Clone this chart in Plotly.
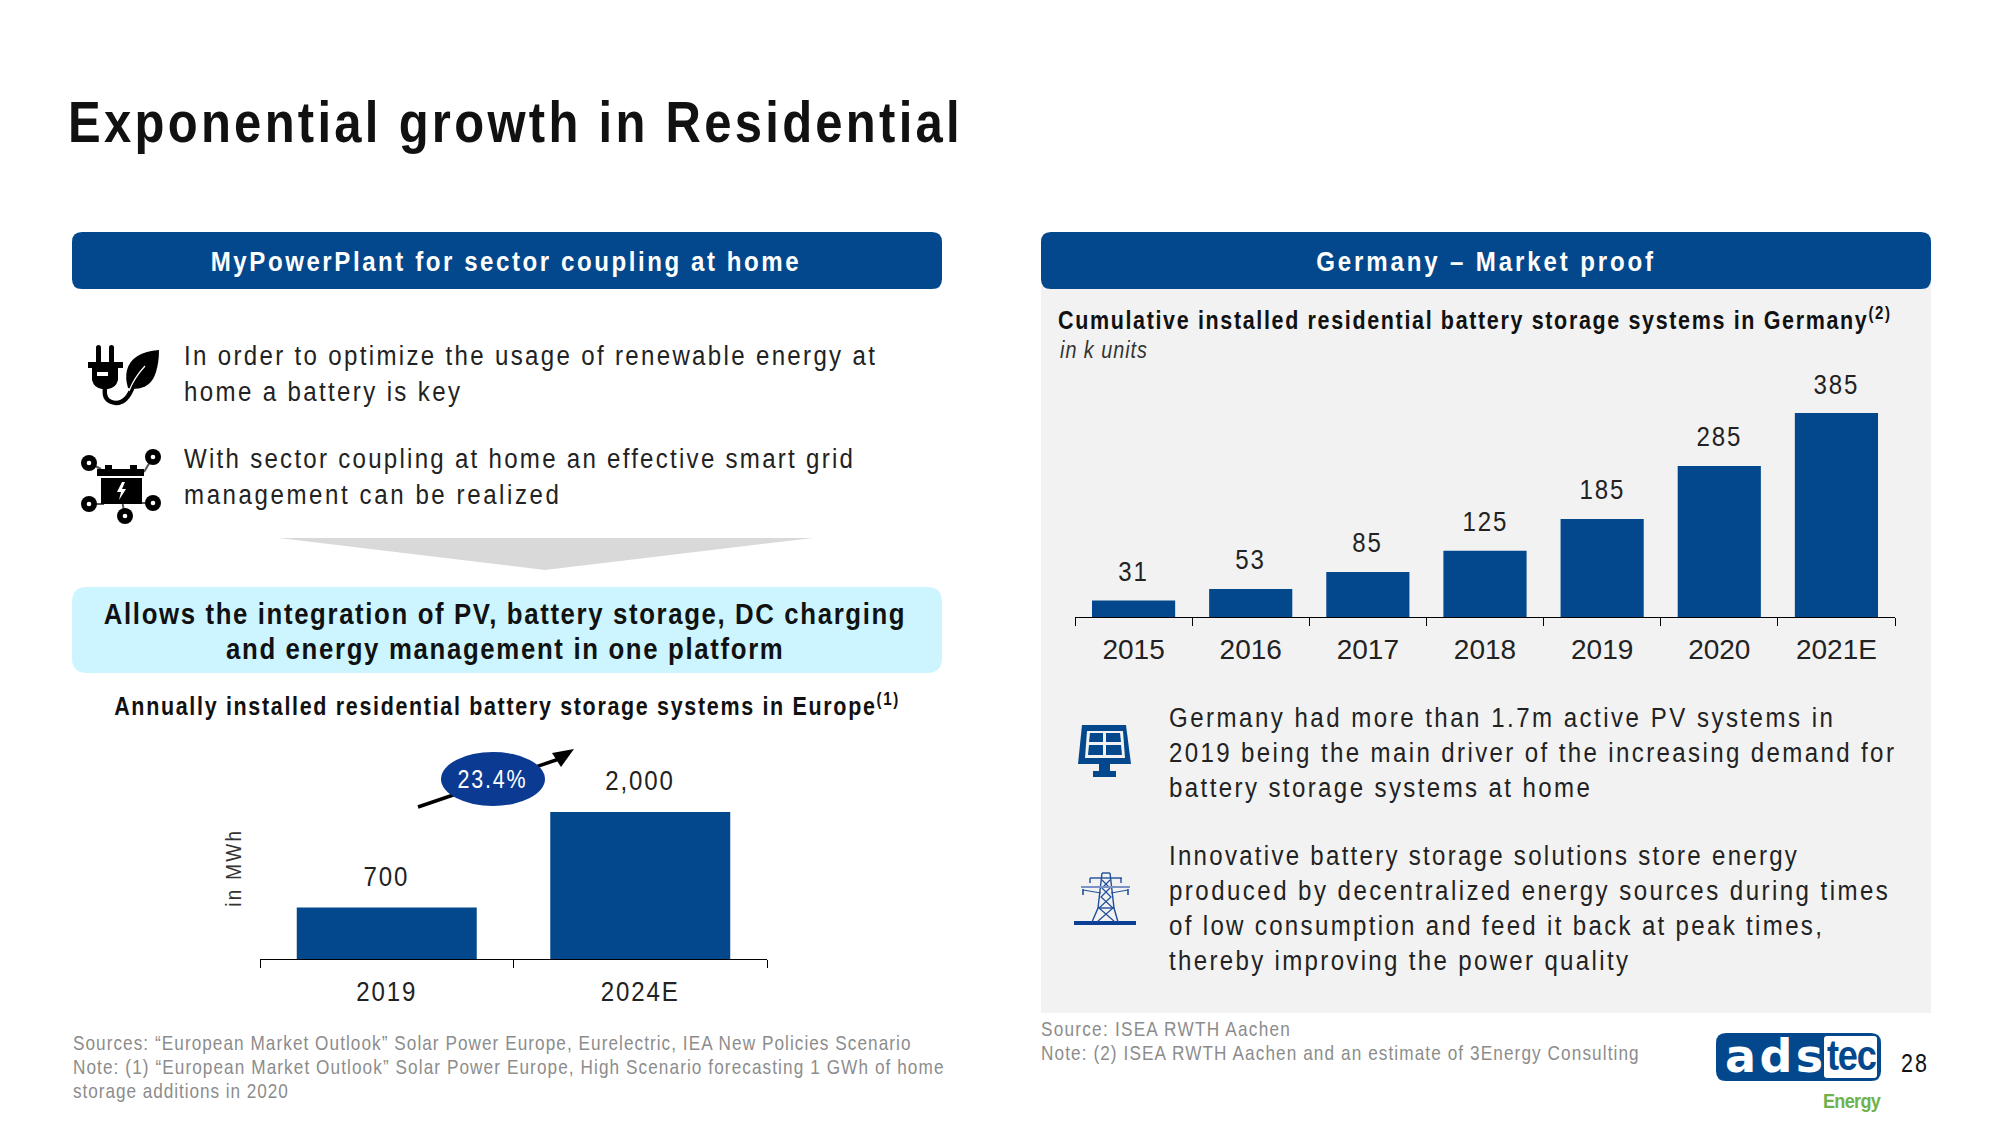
import json
import plotly.graph_objects as go

W, H = 2000, 1125
BLUE = "#03488C"
NAVY = "#0B3A93"
GREY_TXT = "#8C8C8C"
DARK = "#1A1A1A"
FONT = "Liberation Sans"

# ---- data -----------------------------------------------------------------
europe_years = ["2019", "2024E"]
europe_mwh = [700, 2000]
europe_labels = ["700", "2,000"]

germany_years = ["2015", "2016", "2017", "2018", "2019", "2020", "2021E"]
germany_units = [31, 53, 85, 125, 185, 285, 385]
germany_labels = ["31", "53", "85", "125", "185", "285", "385"]

# text, x, y, xanchor, size, colour, bold, target width
headings = [
    ("Exponential growth in Residential", 66, 122, "left", 57, "#111111", True, 892),
    ("MyPowerPlant for sector coupling at home", 506, 261, "center", 28, "#FFFFFF", True, 588),
    ("Germany – Market proof", 1486, 261, "center", 28, "#FFFFFF", True, 337),
    ("Allows the integration of PV, battery storage, DC charging", 505, 613, "center", 30, "#111111", True, 801),
    ("and energy management in one platform", 505, 648, "center", 30, "#111111", True, 557),
    ("Annually installed residential battery storage systems in Europe<sup>(1)</sup>", 507, 705, "center", 25, "#111111", True, 788),
    ("Cumulative installed residential battery storage systems in Germany<sup>(2)</sup>", 1056, 319, "left", 25, "#111111", True, 836),
]
body_lines = [
    ("In order to optimize the usage of renewable energy at", 182, 356, 691),
    ("home a battery is key", 182, 391, 276),
    ("With sector coupling at home an effective smart grid", 182, 459, 669),
    ("management can be realized", 182, 494, 375),
    ("Germany had more than 1.7m active PV systems in", 1166.5, 717, 664),
    ("2019 being the main driver of the increasing demand for", 1166.5, 752, 725),
    ("battery storage systems at home", 1166.5, 787, 421),
    ("Innovative battery storage solutions store energy", 1166.5, 855, 628),
    ("produced by decentralized energy sources during times", 1166.5, 890, 719),
    ("of low consumption and feed it back at peak times,", 1166.5, 925, 653),
    ("thereby improving the power quality", 1166.5, 960, 459),
]
source_lines = [
    ("Sources: “European Market Outlook” Solar Power Europe, Eurelectric, IEA New Policies Scenario", 71, 1043, 838),
    ("Note: (1) “European Market Outlook” Solar Power Europe, High Scenario forecasting 1 GWh of home", 71, 1067, 871),
    ("storage additions in 2020", 71, 1091, 215),
    ("Source: ISEA RWTH Aachen", 1039, 1029, 249),
    ("Note: (2) ISEA RWTH Aachen and an estimate of 3Energy Consulting", 1039, 1053, 598),
]

# ---- pixel helpers --------------------------------------------------------
def px(x): return x / W
def py(y): return 1 - y / H

def path(cmds):
    out = []
    for c in cmds:
        if isinstance(c, str):
            out.append(c)
        else:
            out.append(f"{px(c[0]):.5f},{py(c[1]):.5f}")
    return " ".join(out)

shapes = []
def add_path(cmds, fill=None, line=None, lw=0):
    shapes.append(dict(type="path", xref="paper", yref="paper", path=path(cmds), layer="below",
                       fillcolor=fill if fill else "rgba(0,0,0,0)",
                       line=dict(color=line if line else "rgba(0,0,0,0)", width=lw)))

def rrect(x0, y0, x1, y1, r, fill):
    add_path(["M", (x0 + r, y0), "L", (x1 - r, y0), "Q", (x1, y0), (x1, y0 + r), "L", (x1, y1 - r), "Q", (x1, y1), (x1 - r, y1),
              "L", (x0 + r, y1), "Q", (x0, y1), (x0, y1 - r), "L", (x0, y0 + r), "Q", (x0, y0), (x0 + r, y0), "Z"], fill=fill)

def rect(x0, y0, x1, y1, fill):
    shapes.append(dict(type="rect", xref="paper", yref="paper", x0=px(x0), x1=px(x1), y0=py(y0), y1=py(y1),
                       fillcolor=fill, line=dict(width=0), layer="below"))

def ell(cx, cy, rx, ry, fill):
    shapes.append(dict(type="circle", xref="paper", yref="paper", x0=px(cx - rx), x1=px(cx + rx), y0=py(cy - ry), y1=py(cy + ry),
                       fillcolor=fill, line=dict(width=0), layer="below"))

def seg(pts, col, lw):
    cmds = []
    for i, p in enumerate(pts):
        cmds += ["M" if i == 0 else "L", p]
    add_path(cmds, line=col, lw=lw)

# panels
rect(1041, 260, 1931, 1013, "#F2F2F2")
rrect(72, 232, 942, 289, 10, BLUE)
rrect(1041, 232, 1931, 289, 10, BLUE)
rrect(72, 587, 942, 673, 15, "#CCF5FF")
add_path(["M", (279, 538), "L", (813, 538), "L", (545, 570), "Z"], fill="#D9D9D9")

# CAGR arrow + bubble
seg([(418, 807), (562, 758)], "#000000", 3.5)
add_path(["M", (574, 749), "L", (561, 767), "L", (552, 753), "Z"], fill="#000000")
ell(493, 779, 52, 27, NAVY)

# plug + leaf icon
K = "#000000"
rrect(96, 345, 101, 364, 2.5, K)
rrect(109, 345, 114, 364, 2.5, K)
rect(88, 362, 123, 368, K)
add_path(["M", (92, 368), "L", (118, 368), "L", (118, 380), "Q", (116, 388), (108, 389), "L", (102, 389), "Q", (94, 388), (92, 380), "Z"], fill=K)
rect(97, 372, 108, 376, "#FFFFFF")
add_path(["M", (105, 388), "Q", (103, 402), (116, 403), "Q", (127, 403), (133, 386)], line=K, lw=4.5)
add_path(["M", (159, 350), "Q", (132, 352), (127, 370), "Q", (125, 378), (128, 388), "Q", (150, 392), (156, 372), "Q", (159, 362), (159, 350), "Z"], fill=K)
add_path(["M", (129, 391), "Q", (134, 378), (145, 366)], line="#FFFFFF", lw=1.2)

# battery network icon
for a, b in [((89, 463), (101, 469)), ((153, 457), (144, 472)), ((89, 504), (104, 504)), ((153, 503), (140, 503)), ((125, 516), (120, 490))]:
    seg([a, b], "#555555", 2)
rect(97, 469, 144, 476, K)
rect(105, 465, 112, 469, K)
rect(130, 465, 137, 469, K)
rect(101, 478, 142, 504, K)
add_path(["M", (122, 482), "L", (117, 492), "L", (121, 492), "L", (119, 500), "L", (126, 489), "L", (122, 489), "L", (125, 482), "Z"], fill="#FFFFFF")
for cx, cy in [(89, 463), (153, 457), (89, 504), (153, 503), (125, 516)]:
    ell(cx, cy, 8, 8, K)
    ell(cx, cy, 2.3, 2.3, "#FFFFFF")

# solar panel icon
add_path(["M", (1082, 725), "L", (1126, 725), "L", (1131, 764), "L", (1078, 764), "Z"], fill=BLUE)
add_path(["M", (1087, 731), "L", (1123, 731), "L", (1125, 758), "L", (1085, 758), "Z"], fill="#F2F2F2")
for c in [[(1090, 733), (1103, 733), (1103, 742), (1089, 742)], [(1106, 733), (1120, 733), (1121, 742), (1106, 742)],
          [(1089, 745), (1103, 745), (1103, 755), (1088, 755)], [(1106, 745), (1121, 745), (1122, 755), (1106, 755)]]:
    add_path(["M", c[0], "L", c[1], "L", c[2], "L", c[3], "Z"], fill=BLUE)
rect(1099, 764, 1110, 772, BLUE)
rect(1093, 771, 1116, 777, BLUE)

# pylon icon
T = "#1F4E9A"
rect(1074, 921, 1136, 925, "#0B3F96")
seg([(1102, 873), (1110, 873)], T, 1.4)
seg([(1102, 873), (1098, 908), (1092, 922)], T, 1.4)
seg([(1110, 873), (1114, 908), (1118, 922)], T, 1.4)
seg([(1102, 880), (1110, 888), (1101, 897), (1113, 908), (1097, 922)], T, 1.2)
seg([(1110, 880), (1102, 888), (1111, 897), (1099, 908), (1115, 922)], T, 1.2)
seg([(1098, 908), (1114, 908)], T, 1.4)
seg([(1090, 878), (1122, 878)], T, 1.4)
seg([(1090, 878), (1090, 883)], T, 1.4)
seg([(1121, 878), (1121, 883)], T, 1.4)
seg([(1081, 887), (1130, 887)], "#7A92C4", 2)
seg([(1083, 889), (1083, 895)], T, 1.6)
seg([(1128, 889), (1128, 895)], T, 1.6)
seg([(1083, 890), (1101, 893)], T, 1)
seg([(1128, 890), (1111, 893)], T, 1)

# logo
rrect(1716, 1033, 1881, 1081, 10, BLUE)
rrect(1824, 1036, 1877, 1078, 3, "#FFFFFF")

# ---- annotations ----------------------------------------------------------
CONDENSE = 0.86
annotations = []
targets = []
squeeze = []
def note(text, x, y, anchor="left", size=26, color=DARK, bold=False, target=None, italic=False, angle=0, family=FONT, sq=CONDENSE):
    annotations.append(dict(text=text, x=px(x), y=py(y), xref="paper", yref="paper", xanchor=anchor, yanchor="middle",
                            align=anchor, showarrow=False, textangle=angle,
                            font=dict(family=family, size=size, color=color, weight=700 if bold else 400,
                                      style="italic" if italic else "normal")))
    targets.append(target)
    squeeze.append(sq)

for t, x, y, a, s, c, b, w in headings:
    note(t, x, y, a, s, c, b, w)
for t, x, y, w in body_lines:
    note(t, x, y, "left", 28, "#222222", False, w)
for t, x, y, w in source_lines:
    note(t, x, y, "left", 20, GREY_TXT, False, w)
note("in k units", 1058, 350, "left", 23, "#333333", False, 87, italic=True)
note("in MWh", 233, 868, "center", 22, "#333333", False, 76, angle=-90)
note("23.4%", 492, 779, "center", 25, "#FFFFFF", False, 68)
note("28", 1915, 1063, "center", 25, "#111111", False, 26)
note("ads", 1775, 1056, "center", 46, "#FFFFFF", True, 98, family="DejaVu Sans", sq=1)
note("tec", 1851, 1055, "center", 42, BLUE, True, 50)
note("Energy", 1852, 1100, "center", 21, "#6FB14A", True, 58)

# value labels, tied to the bars through their axes (category index, value)
for i, (v, lab) in enumerate(zip(europe_mwh, europe_labels)):
    annotations.append(dict(text=lab, x=i, y=v, xref="x", yref="y", yshift=31, showarrow=False, yanchor="middle",
                            font=dict(family=FONT, size=28, color="#222222")))
    targets.append(None)
    squeeze.append(CONDENSE)
for i, (v, lab) in enumerate(zip(germany_units, germany_labels)):
    annotations.append(dict(text=lab, x=i, y=v, xref="x2", yref="y2", yshift=29, showarrow=False, yanchor="middle",
                            font=dict(family=FONT, size=28, color="#222222")))
    targets.append(None)
    squeeze.append(CONDENSE)

# ---- figure ---------------------------------------------------------------
fig = go.Figure()
fig.add_trace(go.Bar(x=europe_years, y=europe_mwh, marker=dict(color=BLUE, line=dict(width=0)), xaxis="x", yaxis="y", hoverinfo="skip"))
fig.add_trace(go.Bar(x=germany_years, y=germany_units, marker=dict(color=BLUE, line=dict(width=0)), xaxis="x2", yaxis="y2", hoverinfo="skip"))

def xax(n, x0, x1, anchor):
    return dict(type="category", range=[-0.5, n - 0.5], domain=[px(x0), px(x1)], anchor=anchor, tickson="boundaries",
                ticks="outside", ticklen=8, tickwidth=1, tickcolor="#000000", showline=True, linecolor="#000000", linewidth=1,
                showgrid=False, zeroline=False, tickfont=dict(family=FONT, size=28, color="#222222"), ticklabelstandoff=7, fixedrange=True)

def yax(y0, y1, top, anchor):
    return dict(range=[0, top], domain=[py(y0), py(y1)], anchor=anchor, visible=False, showgrid=False, zeroline=False, fixedrange=True)

fig.update_layout(
    width=W, height=H, autosize=False, margin=dict(l=0, r=0, t=0, b=0, pad=0),
    paper_bgcolor="#FFFFFF", plot_bgcolor="rgba(0,0,0,0)", showlegend=False, bargap=0.29,
    xaxis=xax(2, 260, 767, "y"), yaxis=yax(959, 790, 2299, "x"),
    xaxis2=xax(7, 1075, 1895, "y2"), yaxis2=yax(617, 390, 428.4, "x2"),
    shapes=shapes, annotations=annotations,
)

post = """
document.documentElement.style.overflow='hidden';
document.body.style.margin='0';
var T=%s, S=%s, C=%s;
function narrow(t,s){
  var x=parseFloat(t.getAttribute('x'))||0, old=t.getAttribute('transform')||'';
  t.setAttribute('transform',old+' translate('+x+',0) scale('+s+',1) translate('+(-x)+',0)');
}
document.querySelectorAll('.annotation').forEach(function(g){
  var i=+g.getAttribute('data-index'); var t=g.querySelector('text'); var w=T[i], s=S[i];
  if(!t) return;
  if(w===null){t.style.letterSpacing='2.2px';}
  else{
    var n=t.textContent.length; var L=t.getComputedTextLength();
    t.style.letterSpacing=((w/s-L)/(n-1)).toFixed(3)+'px';
  }
  if(s!==1) narrow(t,s);
});
document.querySelectorAll('.xtick text').forEach(function(t){t.style.letterSpacing='2.2px';narrow(t,C);});
""" % (json.dumps(targets), json.dumps(squeeze), json.dumps(CONDENSE))

fig.write_html("out.html", post_script=post, config=dict(displayModeBar=False, staticPlot=True))
